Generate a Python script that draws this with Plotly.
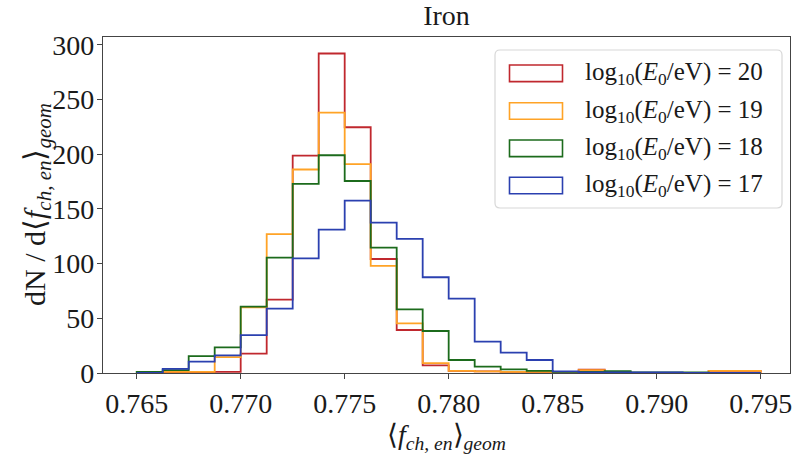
import numpy as np
import plotly.graph_objects as go

# bin edges (24 bins between 0.765 and 0.795)
bin_start = 0.765
bin_stop = 0.795
n_bins = 24
edges = list(np.linspace(bin_start, bin_stop, n_bins + 1))

labels = ["log<sub>10</sub>(<i>E</i><sub>0</sub>/eV) = 20",
          "log<sub>10</sub>(<i>E</i><sub>0</sub>/eV) = 19",
          "log<sub>10</sub>(<i>E</i><sub>0</sub>/eV) = 18",
          "log<sub>10</sub>(<i>E</i><sub>0</sub>/eV) = 17"]
colors = ["#c0282e", "#ffa326", "#1c6b1c", "#2b40b0"]

counts_20 = [0, 0, 0.5, 1, 17.7, 67, 198.6, 292, 224.6, 104.2, 39.3, 7, 2, 1.5, 1, 0.5, 0.5, 3, 0.5, 0, 0, 0, 2, 2]
counts_19 = [0, 1, 1, 14.6, 60, 127, 186, 238, 191, 98, 45.4, 9.1, 2, 1.5, 1, 1, 0.5, 2.5, 0.5, 0, 0, 0, 2, 2]
counts_18 = [1, 2.7, 15.5, 23.5, 60.6, 105.4, 172.8, 199, 175.5, 114.6, 58.2, 38.4, 11.9, 5.8, 3.3, 2, 1, 1, 1.7, 0.5, 0.5, 0.5, 0, 0]
counts_17 = [0, 3.7, 10.4, 16.2, 34.7, 58.8, 104.8, 131, 157.5, 137.4, 122.5, 87.5, 68, 28.7, 18.6, 11.9, 1.5, 0.5, 0.5, 0.5, 0.5, 0, 0, 0]

x_ticks = [0.765, 0.770, 0.775, 0.780, 0.785, 0.790, 0.795]
y_ticks = [0, 50, 100, 150, 200, 250, 300]

series = [counts_20, counts_19, counts_18, counts_17]

W, H = 793, 454
ml, mr, mt, mb = 103, 3, 37, 81
pw, ph = W - ml - mr, H - mt - mb

FONT = "Liberation Serif"
TXT = "#1a1a1a"

fig = go.Figure()
for lab, col, cnt in zip(labels, colors, series):
    xs = [edges[0]] + edges
    ys = [0] + list(cnt) + [0]
    fig.add_trace(go.Scatter(x=xs, y=ys, mode="lines", line=dict(color=col, width=1.8, shape="hv"),
                             name=lab, showlegend=False, hoverinfo="skip"))

def px2paper(px, py):
    return (px - ml) / pw, (H - mb - py) / ph

shapes = []
# legend box with rounded corners
x0p, y0p, x1p, y1p, r = 495, 50, 782, 208, 5
def P(px, py):
    return "%.5f,%.5f" % px2paper(px, py)
path = ("M " + P(x0p + r, y0p) + " L " + P(x1p - r, y0p) + " Q " + P(x1p, y0p) + " " + P(x1p, y0p + r) +
        " L " + P(x1p, y1p - r) + " Q " + P(x1p, y1p) + " " + P(x1p - r, y1p) +
        " L " + P(x0p + r, y1p) + " Q " + P(x0p, y1p) + " " + P(x0p, y1p - r) +
        " L " + P(x0p, y0p + r) + " Q " + P(x0p, y0p) + " " + P(x0p + r, y0p) + " Z")
shapes.append(dict(type="path", xref="paper", yref="paper", path=path,
                   line=dict(color="#d8d8d8", width=1.2), fillcolor="rgba(255,255,255,0.85)"))
annotations = []
centers = [73.3, 111, 148.3, 185.5]
for lab, col, cy in zip(labels, colors, centers):
    ax0, ay0 = px2paper(509.5, cy - 8.3)
    ax1, ay1 = px2paper(562.5, cy + 8.3)
    shapes.append(dict(type="rect", xref="paper", yref="paper", x0=ax0, x1=ax1, y0=ay1, y1=ay0,
                       line=dict(color=col, width=1.6), fillcolor="rgba(0,0,0,0)"))
    tx, ty = px2paper(583, cy)
    annotations.append(dict(xref="paper", yref="paper", x=tx, y=ty, xanchor="left", yanchor="middle",
                            text=lab, showarrow=False, font=dict(family=FONT, size=25, color=TXT)))

# y axis title as rotated annotation
yx, yy = px2paper(37, 205)
annotations.append(dict(xref="paper", yref="paper", x=yx, y=yy, xanchor="center", yanchor="middle",
                        textangle=-90, showarrow=False,
                        text="dN / d⟨<i>f</i><sub><i>ch, en</i></sub>⟩<sub><i>geom</i></sub>",
                        font=dict(family=FONT, size=30, color=TXT)))

fig.update_layout(
    width=W, height=H,
    margin=dict(l=ml, r=mr, t=mt, b=mb),
    paper_bgcolor="white", plot_bgcolor="white",
    font=dict(family=FONT, size=28, color=TXT),
    title=dict(text="Iron", x=(ml + pw / 2) / W, xanchor="center", y=1 - 15 / H, yanchor="middle",
               font=dict(family=FONT, size=28, color=TXT)),
    shapes=shapes, annotations=annotations,
    showlegend=False,
)
fig.update_xaxes(range=[0.76338, 0.79641], tickvals=x_ticks, ticktext=["%.3f" % v for v in x_ticks],
                 automargin=False,
                 showgrid=False, zeroline=False, showline=True, linecolor="#444", linewidth=1.3, mirror=True,
                 ticks="outside", ticklen=5, tickwidth=1.2, tickcolor="#444",
                 tickfont=dict(family=FONT, size=28, color=TXT),
                 title=dict(text="⟨<i>f</i><sub><i>ch, en</i></sub>⟩<sub><i>geom</i></sub>",
                            font=dict(family=FONT, size=28, color=TXT), standoff=6))
fig.update_yaxes(range=[0, 307.1], tickvals=y_ticks, automargin=False, ticklabelstandoff=-3,
                 showgrid=False, zeroline=False, showline=True, linecolor="#444", linewidth=1.3, mirror=True,
                 ticks="outside", ticklen=5, tickwidth=1.2, tickcolor="#444",
                 tickfont=dict(family=FONT, size=28, color=TXT))

fig.write_html("out.html", config={"displayModeBar": False},
               post_script="document.body.style.margin='0';")
